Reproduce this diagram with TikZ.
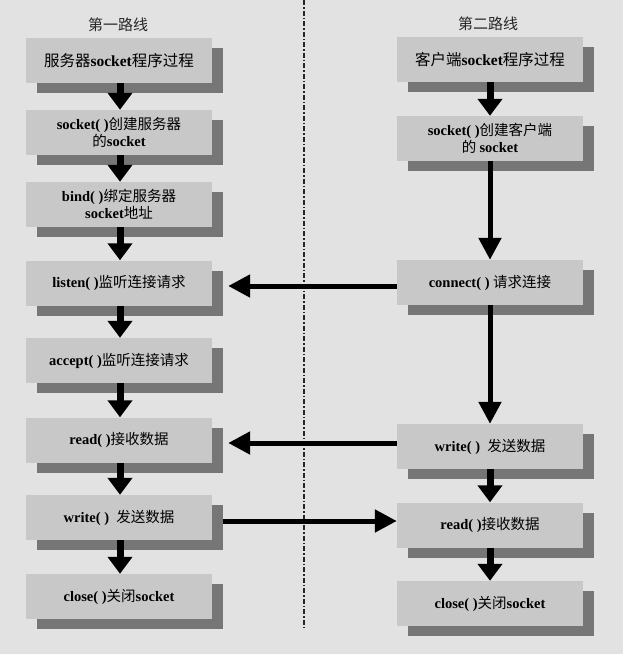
\documentclass[tikz,border=0pt]{standalone}
\usepackage{fontspec}
\setmainfont{Liberation Serif}
\newfontfamily\zhfont{Noto Sans CJK SC}
\usetikzlibrary{arrows.meta,shadows,calc}
\definecolor{bgc}{RGB}{226,226,226}
\definecolor{boxc}{RGB}{200,200,200}
\definecolor{shc}{RGB}{118,118,118}
\newcommand{\zh}[1]{{\zhfont #1}}
\newcommand{\bt}[1]{\textbf{#1}}
\begin{document}
\begin{tikzpicture}[x=1pt,y=-1pt,
  stepbox/.style={fill=boxc, draw=none, minimum width=186pt, minimum height=45pt,
    inner sep=2pt, align=center, font=\fontsize{14.5}{17}\selectfont,
    drop shadow={shadow xshift=11pt, shadow yshift=-10pt, fill=shc, opacity=1}},
  tri/.style={line width=7pt, -{Triangle[width=24pt,length=17pt]}},
  longarr/.style={line width=5pt, -{Triangle[width=22pt,length=22pt]}},
  harr/.style={line width=5pt, -{Triangle[width=22pt,length=22pt]}},
  title/.style={font=\fontsize{15}{18}\selectfont\zhfont, text=black!85}
]
\fill[bgc] (0,0) rectangle (623,654);
\useasboundingbox (0,0) rectangle (623,654);

% divider
\coordinate (dtop) at (304,0);
\coordinate (dbot) at (304,627);
\draw[line width=1.7pt, black!85, dash pattern=on 5pt off 2pt on 1.5pt off 2pt] (dtop) -- (dbot);

% titles
\node[title] (t1) at (118,25) {第一路线};
\node[title] (t2) at (488,24) {第二路线};

% left column
\node[stepbox, font=\fontsize{15.5}{18}\selectfont] (l1) at (119,60.5) {\zh{服务器}\bt{socket}\zh{程序过程}};
\node[stepbox] (l2) at (119,132.5) {\bt{socket( )}\zh{创建服务器}\\\zh{的}\bt{socket}};
\node[stepbox] (l3) at (119,204.5) {\bt{bind( )}\zh{绑定服务器}\\\bt{socket}\zh{地址}};
\node[stepbox] (l4) at (119,283) {\bt{listen( )}\zh{监听连接请求}};
\node[stepbox] (l5) at (119,360.5) {\bt{accept( )}\zh{监听连接请求}};
\node[stepbox] (l6) at (119,440) {\bt{read( )}\zh{接收数据}};
\node[stepbox] (l7) at (119,517.5) {\bt{write( )}\ \ \zh{发送数据}};
\node[stepbox] (l8) at (119,596.5) {\bt{close( )}\zh{关闭}\bt{socket}};

% right column
\node[stepbox, font=\fontsize{15.5}{18}\selectfont] (r1) at (490,59.5) {\zh{客户端}\bt{socket}\zh{程序过程}};
\node[stepbox] (r2) at (490,138.5) {\bt{socket( )}\zh{创建客户端}\\\zh{的 }\bt{socket}};
\node[stepbox] (r3) at (490,282.5) {\bt{connect( )}\ \zh{请求连接}};
\node[stepbox] (r4) at (490,446.5) {\bt{write( )}\ \ \zh{发送数据}};
\node[stepbox] (r5) at (490,525) {\bt{read( )}\zh{接收数据}};
\node[stepbox] (r6) at (490,603.5) {\bt{close( )}\zh{关闭}\bt{socket}};

% left vertical arrows
\foreach \a/\b in {l1/l2,l2/l3,l3/l4,l4/l5,l5/l6,l6/l7,l7/l8}
  \draw[tri] ([xshift=1pt]\a.south) -- ([xshift=1pt]\b.north);

% right vertical arrows
\draw[tri] (r1.south) -- (r2.north);
\draw[longarr] (r2.south) -- (r3.north);
\draw[longarr] (r3.south) -- (r4.north);
\draw[tri] (r4.south) -- (r5.north);
\draw[tri] (r5.south) -- (r6.north);

% horizontal arrows
\coordinate (h1) at (0,286);
\coordinate (h2) at (0,443);
\coordinate (h3) at (0,521);
\draw[harr] (r3.west |- h1) -- ([xshift=16pt]l4.east |- h1);
\draw[harr] (r4.west |- h2) -- ([xshift=16pt]l6.east |- h2);
\draw[harr] ([xshift=11pt]l7.east |- h3) -- (r5.west |- h3);
\end{tikzpicture}
\end{document}
